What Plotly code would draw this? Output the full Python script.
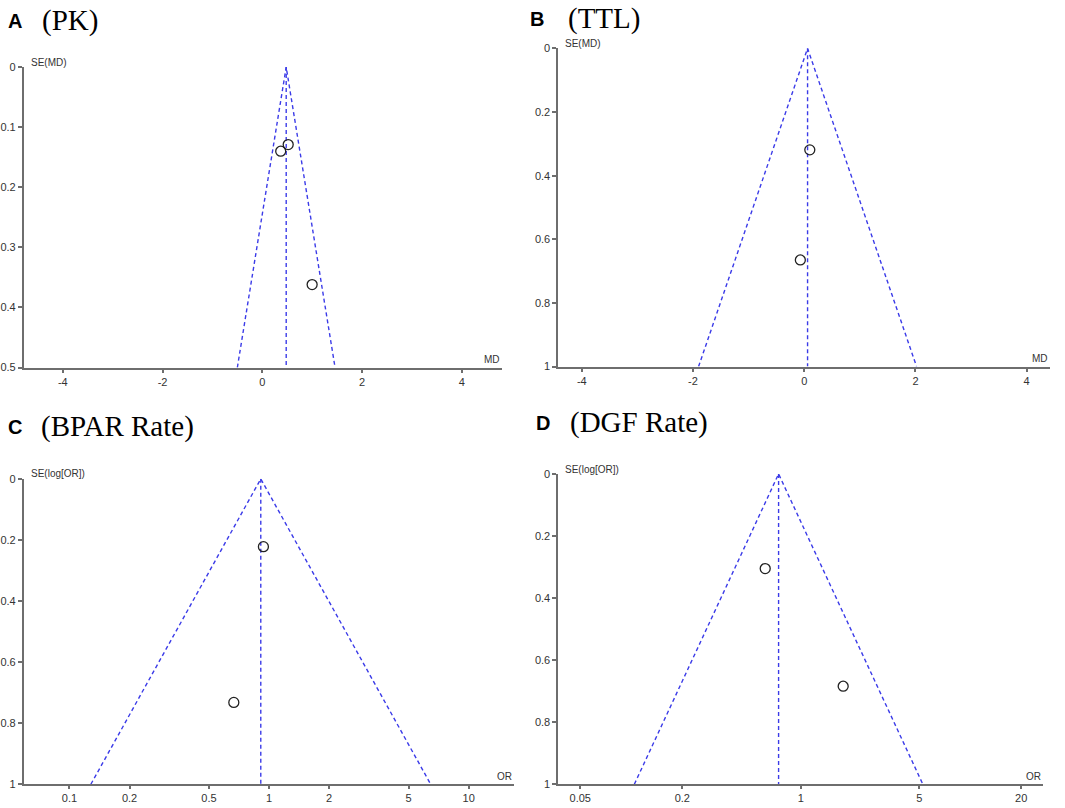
import math
import plotly.graph_objects as go

W, H = 1065, 808

# panel A (PK): mean difference vs SE(MD)
pk_md = [0.37, 0.52, 1.0]
pk_se = [0.14, 0.129, 0.362]
pk_pooled = 0.48

# panel B (TTL)
ttl_md = [0.10, -0.07]
ttl_se = [0.319, 0.665]
ttl_pooled = 0.06

# panel C (BPAR rate): odds ratio vs SE(log[OR])
bpar_or = [0.937, 0.666]
bpar_se = [0.222, 0.732]
bpar_pooled = 0.909

# panel D (DGF rate)
dgf_or = [0.617, 1.78]
dgf_se = [0.305, 0.684]
dgf_pooled = 0.74

md_ticks = [-4, -2, 0, 2, 4]
bpar_ticks = [0.1, 0.2, 0.5, 1, 2, 5, 10]
dgf_ticks = [0.05, 0.2, 1, 5, 20]
se_ticks_a = [0, 0.1, 0.2, 0.3, 0.4, 0.5]
se_ticks = [0, 0.2, 0.4, 0.6, 0.8, 1]

titles = [("A", "(PK)"), ("B", "(TTL)"), ("C", "(BPAR Rate)"), ("D", "(DGF Rate)")]
blue = "#3b3be8"
axcol = "#6e6e6e"


def fx(p):
    return p / W


def fy(p):
    return 1 - p / H


def funnel(pooled, se_max, log=False):
    if log:
        c = math.log(pooled)
        lo, hi = math.exp(c - 1.96 * se_max), math.exp(c + 1.96 * se_max)
    else:
        lo, hi = pooled - 1.96 * se_max, pooled + 1.96 * se_max
    return [lo, pooled, hi], [se_max, 0, se_max]


fig = go.Figure()

panels = [
    ("x", "y", pk_md, pk_se, pk_pooled, 0.5, False),
    ("x2", "y2", ttl_md, ttl_se, ttl_pooled, 1.0, False),
    ("x3", "y3", bpar_or, bpar_se, bpar_pooled, 1.0, True),
    ("x4", "y4", dgf_or, dgf_se, dgf_pooled, 1.0, True),
]

for xa, ya, xs, ses, pooled, smax, lg in panels:
    fx_, fy_ = funnel(pooled, smax, lg)
    fig.add_trace(go.Scatter(x=fx_, y=fy_, mode="lines", xaxis=xa, yaxis=ya,
                             line=dict(color=blue, width=1.4, dash="4px,3px"),
                             hoverinfo="skip"))
    fig.add_trace(go.Scatter(x=[pooled, pooled], y=[0, smax], mode="lines", xaxis=xa, yaxis=ya,
                             line=dict(color=blue, width=1.4, dash="4px,3px"),
                             hoverinfo="skip"))
    fig.add_trace(go.Scatter(x=xs, y=ses, mode="markers", xaxis=xa, yaxis=ya,
                             marker=dict(symbol="circle-open", size=10, color="#222222",
                                         line=dict(color="#222222", width=1.3))))

# axis boxes in pixels: (left, right, top, bottom)
boxes = [(21, 500, 62, 367), (557, 1050, 43, 366), (21, 512, 480, 790), (557, 1043, 475, 790)]

common = dict(showgrid=False, zeroline=False, showline=True, linecolor=axcol, linewidth=2,
              ticks="outside", tickcolor=axcol, tickwidth=1.5,
              tickfont=dict(family="Liberation Sans, Arial", size=11, color="#333333"))

xcfg = [
    dict(type="linear", range=[-4.78, 4.8], tickvals=md_ticks, ticktext=[str(t) for t in md_ticks]),
    dict(type="linear", range=[-4.42, 4.42], tickvals=md_ticks, ticktext=[str(t) for t in md_ticks]),
    dict(type="log", range=[-1.228, 1.225], tickvals=bpar_ticks, ticktext=[str(t) for t in bpar_ticks]),
    dict(type="log", range=[-1.43, 1.43], tickvals=dgf_ticks, ticktext=[str(t) for t in dgf_ticks]),
]
ycfg = [
    dict(range=[0.5, 0], tickvals=se_ticks_a, ticktext=[f"{t:g}" for t in se_ticks_a]),
    dict(range=[1, 0], tickvals=se_ticks, ticktext=[f"{t:g}" for t in se_ticks]),
    dict(range=[1, 0], tickvals=se_ticks, ticktext=[f"{t:g}" for t in se_ticks]),
    dict(range=[1, 0], tickvals=se_ticks, ticktext=[f"{t:g}" for t in se_ticks]),
]

layout = {}
for i, (l, r, t, b) in enumerate(boxes):
    sfx = "" if i == 0 else str(i + 1)
    ax = dict(common, domain=[fx(l), fx(r)], anchor="y" + sfx, ticklen=3, **xcfg[i])
    ay = dict(common, domain=[fy(b), fy(t)], anchor="x" + sfx, ticklen=4, **ycfg[i])
    layout["xaxis" + sfx] = ax
    layout["yaxis" + sfx] = ay

ylabels = ["SE(MD)", "SE(MD)", "SE(log[OR])", "SE(log[OR])"]
xlabels = ["MD", "MD", "OR", "OR"]
title_pos = [(3, 37, 15), (526, 565, 13), (3, 36, 427), (532, 567, 423)]

ann = []
for i, (l, r, t, b) in enumerate(boxes):
    ann.append(dict(x=fx(l + 5), y=fy(t - 5), text=ylabels[i], showarrow=False,
                    xanchor="left", yanchor="middle", xref="paper", yref="paper",
                    font=dict(family="Liberation Sans, Arial", size=10, color="#333333")))
    ann.append(dict(x=fx(r), y=fy(b - 8), text=xlabels[i], showarrow=False,
                    xanchor="right", yanchor="middle", xref="paper", yref="paper",
                    font=dict(family="Liberation Sans, Arial", size=10, color="#333333")))
    lx, tx, ty = title_pos[i]
    ann.append(dict(x=fx(lx), y=fy(ty), text="<b>" + titles[i][0] + "</b>", showarrow=False,
                    xanchor="left", yanchor="middle", xref="paper", yref="paper",
                    font=dict(family="Liberation Sans, Arial", size=20, color="black")))
    ann.append(dict(x=fx(tx), y=fy(ty), text=titles[i][1], showarrow=False,
                    xanchor="left", yanchor="middle", xref="paper", yref="paper",
                    font=dict(family="Liberation Serif, Times New Roman", size=29, color="black")))

fig.update_layout(width=W, height=H, margin=dict(l=0, r=0, t=0, b=0),
                  plot_bgcolor="white", paper_bgcolor="white", showlegend=False,
                  annotations=ann, **layout)

# drop the browser's default body margin so the figure sits at the page corner
fig.write_html("out.html", config={"displayModeBar": False},
               post_script="document.body.style.margin='0';")
